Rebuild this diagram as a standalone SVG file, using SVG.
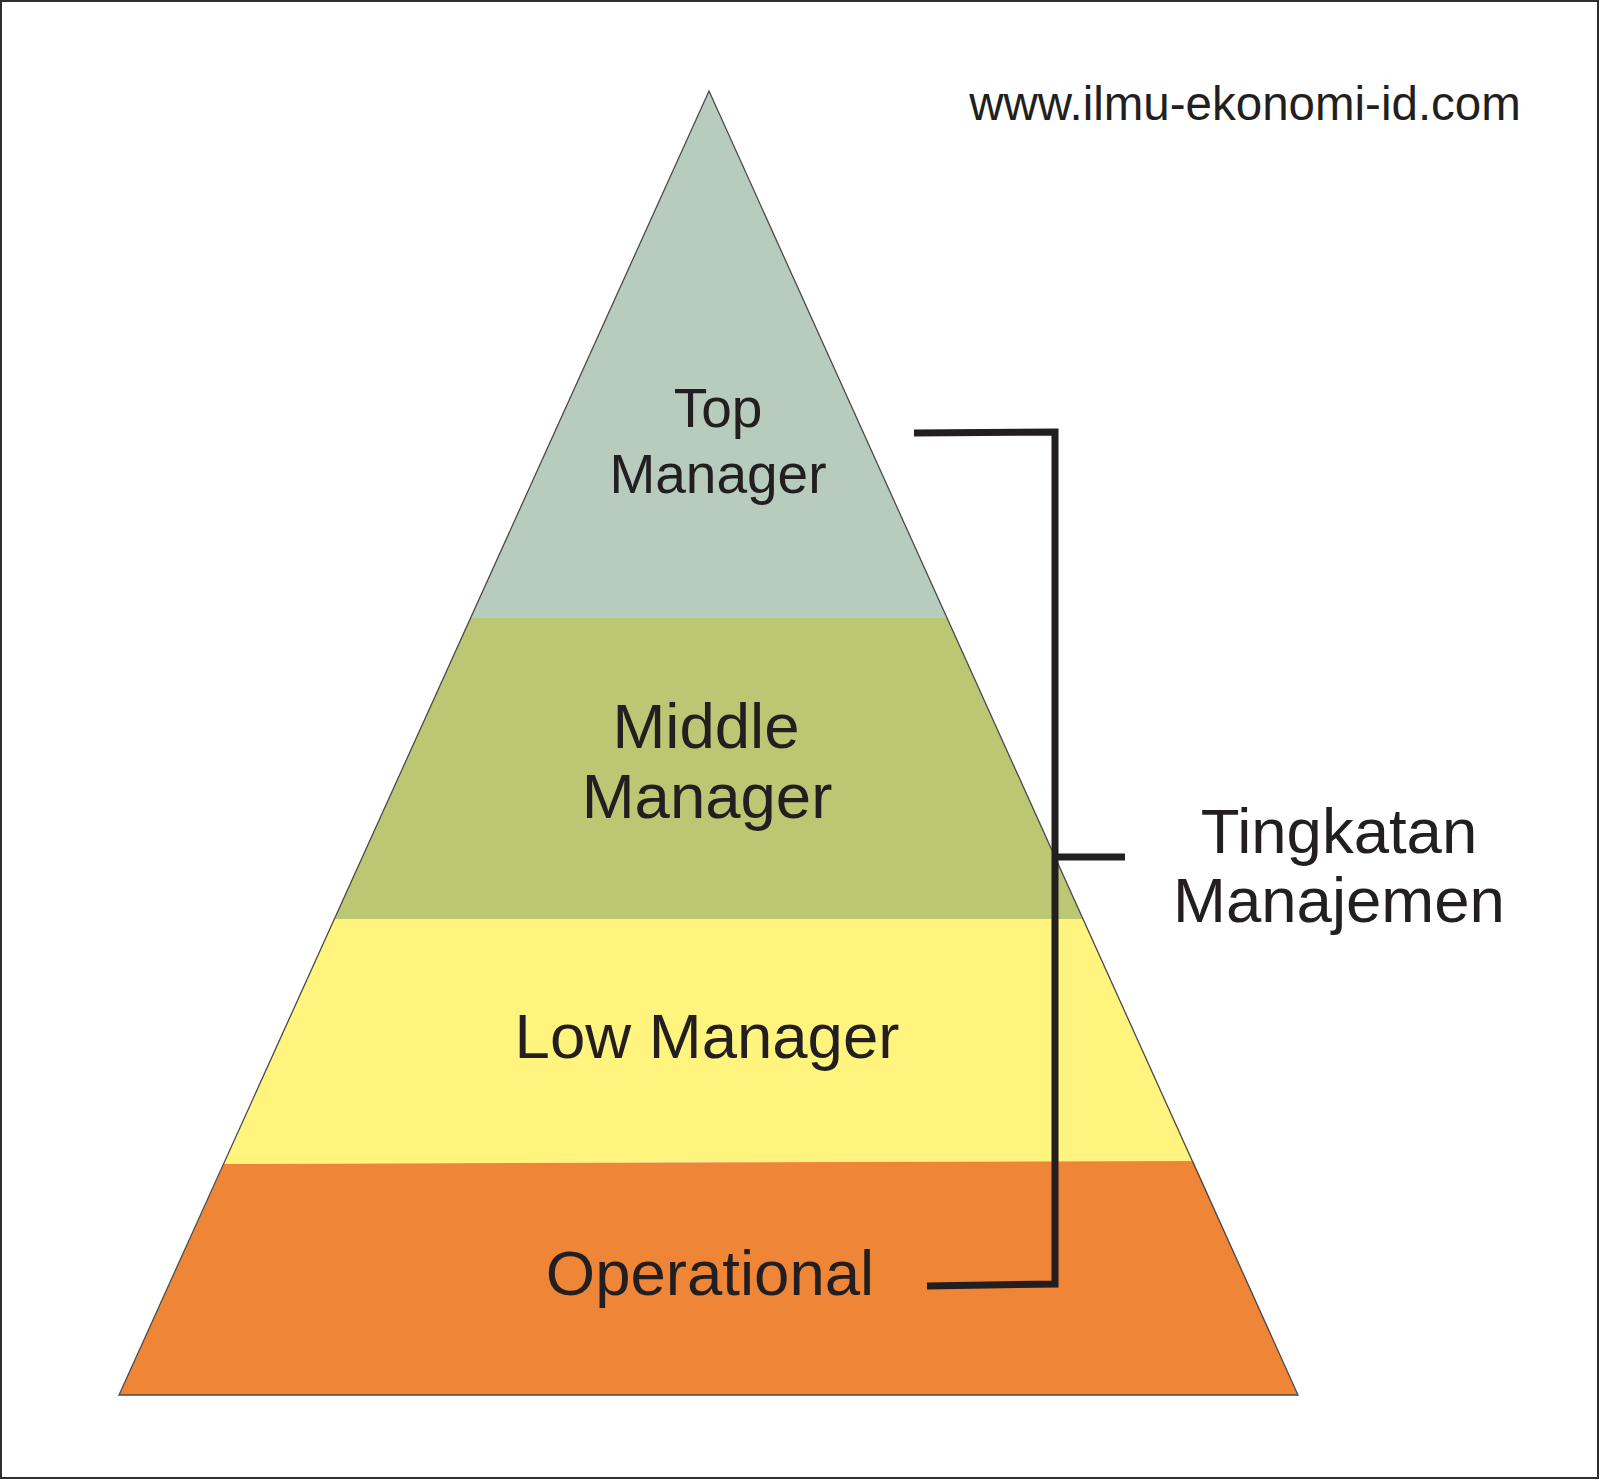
<svg xmlns="http://www.w3.org/2000/svg" width="1600" height="1481" viewBox="0 0 1600 1481">
<style>
text{font-family:"Liberation Sans",Arial,sans-serif;fill:#231f20;text-anchor:middle}
.band{stroke:none}
.bracket{fill:none;stroke:#231f20;stroke-width:7;stroke-linejoin:miter}
</style>
<rect x="0" y="0" width="1600" height="1481" fill="#ffffff"/>
<rect x="1" y="1" width="1597" height="1477" fill="none" stroke="#2e2e2e" stroke-width="2"/>
<g id="level-top">
<polygon class="band" fill="#b8ccbe" points="709,91 947,618 470.6,618"/>
<text x="718" y="427" font-size="55">Top</text>
<text x="718" y="493" font-size="55">Manager</text>
</g>
<g id="level-middle">
<polygon class="band" fill="#bbc773" points="470.6,618 947,618 1083,919 334.4,919"/>
<text x="706" y="748" font-size="63.5">Middle</text>
<text x="707" y="818" font-size="63.5">Manager</text>
</g>
<g id="level-low">
<polygon class="band" fill="#fff57e" points="334.4,919 1083,919 1193.2,1161 224,1164"/>
<text x="707" y="1058" font-size="63.5">Low Manager</text>
</g>
<g id="level-operational">
<polygon class="band" fill="#ef8537" points="224,1164 1193.2,1161 1298,1395 119,1395"/>
<text x="710" y="1295" font-size="63.5">Operational</text>
</g>
<g id="pyramid-outline">
<polygon points="709,91 1298,1395 119,1395" fill="none" stroke="#4a4a4a" stroke-width="1.3"/>
</g>
<g id="connectors">
<path class="bracket" d="M914,433 L1055,432 L1055,1284 L927,1286"/>
<path class="bracket" d="M1055,857 L1125,857"/>
</g>
<g id="label-tingkatan">
<text x="1339" y="853" font-size="63.5">Tingkatan</text>
<text x="1339" y="922" font-size="63.5">Manajemen</text>
</g>
<g id="website">
<text x="1245" y="120" font-size="47.5">www.ilmu-ekonomi-id.com</text>
</g>
</svg>
